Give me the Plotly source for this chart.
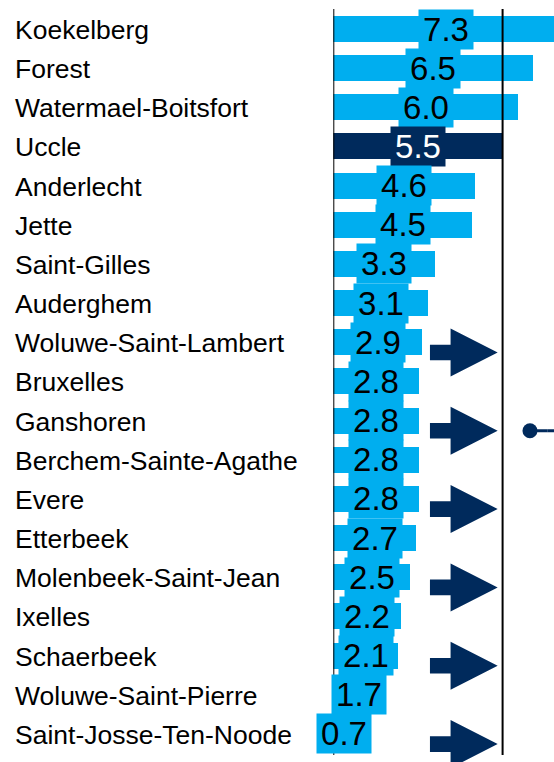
import plotly.graph_objects as go

# Brussels communes, top to bottom, with their values
communes = [
    "Koekelberg", "Forest", "Watermael-Boitsfort", "Uccle", "Anderlecht",
    "Jette", "Saint-Gilles", "Auderghem", "Woluwe-Saint-Lambert", "Bruxelles",
    "Ganshoren", "Berchem-Sainte-Agathe", "Evere", "Etterbeek",
    "Molenbeek-Saint-Jean", "Ixelles", "Schaerbeek", "Woluwe-Saint-Pierre",
    "Saint-Josse-Ten-Noode",
]
values = [7.3, 6.5, 6.0, 5.5, 4.6, 4.5, 3.3, 3.1, 2.9, 2.8, 2.8, 2.8, 2.8,
          2.7, 2.5, 2.2, 2.1, 1.7, 0.7]
highlight = "Uccle"
arrow_communes = ["Woluwe-Saint-Lambert", "Ganshoren", "Evere",
                  "Molenbeek-Saint-Jean", "Schaerbeek", "Saint-Josse-Ten-Noode"]
marker_commune = "Ganshoren"

# styling
W, H = 554, 762
LIGHT = "#00AEEF"
NAVY = "#002A5C"
FONT = "Liberation Sans, Arial, sans-serif"
ROW_PX = 39.16          # vertical pitch of one row
FIRST_ROW_PX = 29.0     # centre of the first row from the top
PX_PER_UNIT = 30.78     # horizontal scale
AXIS_LEFT_PX = 333.3

rows = list(range(len(communes)))
colors = [NAVY if c == highlight else LIGHT for c in communes]
text_colors = ["white" if c == highlight else "black" for c in communes]

fig = go.Figure()

fig.add_trace(go.Bar(
    x=values, y=rows, orientation="h", width=26 / ROW_PX,
    marker=dict(color=colors, line=dict(width=0)),
    hoverinfo="skip", showlegend=False,
))

# trend arrows, each built around its commune's row
ax_x0, ax_x1, ax_tip = 3.14, 3.81, 5.34
shaft_h, head_h, row_off = 0.2, 0.613, 0.26
arr_x, arr_y = [], []
for name in arrow_communes:
    c = communes.index(name) + row_off
    arr_x += [ax_x0, ax_x1, ax_x1, ax_tip, ax_x1, ax_x1, ax_x0, ax_x0, None]
    arr_y += [c - shaft_h, c - shaft_h, c - head_h, c, c + head_h,
              c + shaft_h, c + shaft_h, c - shaft_h, None]
fig.add_trace(go.Scatter(
    x=arr_x, y=arr_y, mode="lines", fill="toself", fillcolor=NAVY,
    line=dict(width=0, color=NAVY), hoverinfo="skip", showlegend=False,
))

# dot-and-line callout leaving to the right
my = communes.index(marker_commune) + row_off
fig.add_trace(go.Scatter(
    x=[6.95, 7.6], y=[my, my], mode="lines",
    line=dict(color=NAVY, width=3),
    hoverinfo="skip", showlegend=False, cliponaxis=True,
))
fig.add_trace(go.Scatter(
    x=[6.39], y=[my], mode="markers",
    marker=dict(size=15, color=NAVY, opacity=1, line=dict(width=0)),
    hoverinfo="skip", showlegend=False, cliponaxis=False,
))
fig.add_trace(go.Scatter(
    x=[6.39, 6.95], y=[my, my], mode="lines",
    line=dict(color=NAVY, width=3),
    hoverinfo="skip", showlegend=False,
))

annotations = []
for i, (name, v) in enumerate(zip(communes, values)):
    annotations.append(dict(
        x=13 / W, xref="paper", y=i, yref="y", yshift=-1, text=name,
        showarrow=False, xanchor="left", yanchor="middle",
        font=dict(family=FONT, size=26.5, color="black"),
    ))
    annotations.append(dict(
        x=v / 2, xref="x", y=i, yref="y", text=f"{v:.1f}", showarrow=False,
        xanchor="center", yanchor="middle", width=54, height=39, borderpad=0,
        bgcolor=colors[i],
        font=dict(family=FONT, size=33, color=text_colors[i]),
    ))

y_top = -FIRST_ROW_PX / ROW_PX
y_bot = (H - FIRST_ROW_PX) / ROW_PX
x_max = (W - AXIS_LEFT_PX) / PX_PER_UNIT
line_y0 = (H - 755) / H
line_y1 = (H - 9) / H

ref_value = values[communes.index(highlight)]
shapes = [
    dict(type="line", xref="x", yref="paper", x0=0, x1=0,
         y0=line_y0, y1=line_y1, line=dict(color="black", width=2)),
    dict(type="line", xref="x", yref="paper", x0=ref_value, x1=ref_value,
         y0=line_y0, y1=line_y1, line=dict(color="black", width=2)),
]

fig.update_layout(
    width=W, height=H,
    margin=dict(l=0, r=0, t=0, b=0),
    paper_bgcolor="white", plot_bgcolor="white",
    xaxis=dict(domain=[AXIS_LEFT_PX / W, 1], range=[0, x_max], visible=False,
               fixedrange=True),
    yaxis=dict(range=[y_bot, y_top], visible=False, fixedrange=True),
    annotations=annotations, shapes=shapes,
    bargap=0,
)

fig.write_html("out.html")
